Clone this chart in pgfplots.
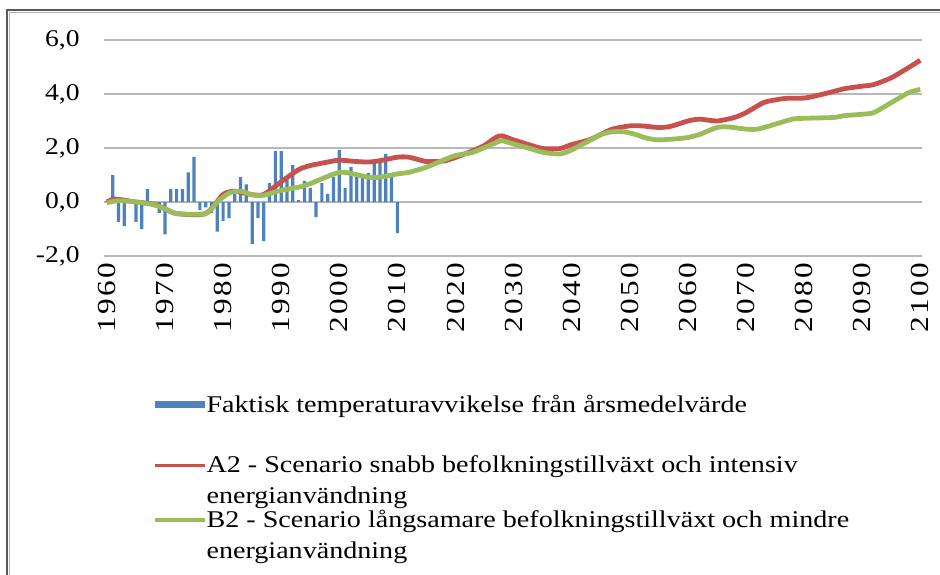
\documentclass[border=0pt]{standalone}
\usepackage{pgfplots}
\pgfplotsset{compat=1.18}
\usepackage{fontspec}
\setmainfont{Liberation Serif}
\newfontfamily\lblfont[FakeStretch=1.15]{Liberation Serif}
\newfontfamily\legfont[FakeStretch=1.17]{Liberation Serif}
\newfontfamily\xlabfont[FakeStretch=1.2,LetterSpace=10]{Liberation Serif}
\definecolor{barblue}{RGB}{79,129,189}
\definecolor{linered}{RGB}{200,80,77}
\definecolor{linegreen}{RGB}{155,189,89}
\begin{document}
\begin{tikzpicture}
\useasboundingbox (0,0) rectangle (470pt,287pt);
\draw[black!65, line width=1pt] (3.5pt,-10pt) |- (480pt,282pt);
\draw[black!30, line width=0.5pt] (4.9pt,-10pt) |- (480pt,280.6pt);
\begin{axis}[
  at={(52pt,159pt)}, anchor=south west,
  width=409pt, height=108pt, scale only axis,
  xmin=1959.5, xmax=2100.3, ymin=-2, ymax=6,
  xtick={1960,1970,...,2100}, ytick={-2,0,2,4,6},
  axis line style={draw=none},
  major tick length=0pt,
  ymajorgrids, grid style={black!28, line width=1pt},
  /pgf/number format/.cd, fixed, fixed zerofill, precision=1, use comma, assume math mode=true,
  /pgfplots/.cd,
  xticklabel={\pgfmathprintnumber[fixed,precision=0,set thousands separator={}]{\tick}},
  yticklabel style={font=\lblfont\fontsize{12}{14}\selectfont, anchor=east, inner sep=0pt},
  yticklabel shift=12pt,
  xticklabel style={font=\xlabfont\fontsize{13}{15}\selectfont, rotate=90, anchor=east, inner sep=0pt},
  xticklabel shift=3pt,
  legend cell align=left,
  legend style={at={(axis description cs:0.0599,-0.63)}, anchor=north west, draw=none, fill=none,
    inner sep=0pt, row sep=0.6pt,
    nodes={inner sep=0pt, align=left, font=\legfont\fontsize{12}{14}\selectfont},
    /tikz/every even column/.append style={column sep=3.5pt}},
]
\addplot[ybar, bar width=1.6pt, fill=barblue, draw=none,
  legend image code/.code={\fill[barblue] (0pt,7.35pt) rectangle (25pt,10.55pt);\path[draw=none,fill=none] (0pt,-11pt) rectangle (0.1pt,11pt);}] coordinates {
(1960,0.03) (1961,1.0) (1962,-0.74) (1963,-0.89) (1964,-0.05) (1965,-0.74) (1966,-1.0) (1967,0.48)
(1968,-0.05) (1969,-0.4) (1970,-1.2) (1971,0.48) (1972,0.48) (1973,0.48) (1974,1.1) (1975,1.67)
(1976,-0.3) (1977,-0.2) (1978,-0.4) (1979,-1.1) (1980,-0.7) (1981,-0.6) (1982,0.33) (1983,0.92)
(1984,0.65) (1985,-1.55) (1986,-0.6) (1987,-1.45) (1988,0.7) (1989,1.88) (1990,1.88) (1991,0.9)
(1992,1.37) (1993,0.07) (1994,0.78) (1995,0.52) (1996,-0.56) (1997,0.7) (1998,0.3) (1999,0.93)
(2000,1.93) (2001,0.52) (2002,1.3) (2003,0.93) (2004,0.93) (2005,1.07) (2006,1.44) (2007,1.44)
(2008,1.78) (2009,0.93) (2010,-1.15)};
\addlegendentry{Faktisk temperaturavvikelse från årsmedelvärde\strut\\[4.5pt]\strut}
\addplot[color=linered, line width=2.4pt, smooth, tension=0.4,
  legend image code/.code={\draw[linered, line width=1.6pt] (0pt,7.45pt) -- (25pt,7.45pt);\path[draw=none,fill=none] (0pt,-11pt) rectangle (0.1pt,11pt);}] coordinates {
(1960,0.0) (1961,0.1) (1962,0.1) (1965,0.0) (1968,-0.08) (1970,-0.25) (1972,-0.43) (1977,-0.43)
(1980,0.28) (1982,0.4) (1985,0.27) (1987,0.28) (1990,0.75) (1993,1.2) (1995,1.35) (1998,1.48)
(2000,1.55) (2003,1.5) (2005,1.48) (2007,1.53) (2010,1.66) (2012,1.66) (2015,1.5) (2018,1.52)
(2020,1.65) (2023,1.9) (2025,2.1) (2027,2.4) (2028,2.45) (2030,2.3) (2033,2.1) (2035,1.98)
(2038,1.98) (2040,2.13) (2043,2.3) (2045,2.5) (2047,2.7) (2050,2.82) (2052,2.82) (2055,2.76)
(2057,2.8) (2060,3.0) (2062,3.07) (2065,3.0) (2068,3.13) (2070,3.31) (2073,3.68) (2075,3.78)
(2077,3.84) (2080,3.85) (2082,3.93) (2085,4.09) (2087,4.2) (2090,4.29) (2092,4.35) (2095,4.6)
(2098,4.98) (2100,5.25)};
\addlegendentry{A2 - Scenario snabb befolkningstillväxt och intensiv\strut\\[1.5pt]energianvändning\strut}
\addplot[color=linegreen, line width=2.4pt, smooth, tension=0.4,
  legend image code/.code={\draw[linegreen, line width=1.6pt] (0pt,7.45pt) -- (25pt,7.45pt);\path[draw=none,fill=none] (0pt,-11pt) rectangle (0.1pt,11pt);}] coordinates {
(1960,-0.03) (1962,0.05) (1965,0.0) (1968,-0.1) (1970,-0.25) (1972,-0.43) (1977,-0.43) (1979,0.0)
(1981,0.33) (1983,0.4) (1985,0.27) (1987,0.25) (1990,0.43) (1993,0.55) (1995,0.68) (1997,0.86)
(2000,1.1) (2002,1.06) (2005,0.92) (2007,0.92) (2010,1.04) (2012,1.1) (2015,1.29) (2018,1.56)
(2020,1.72) (2023,1.84) (2025,2.02) (2027,2.2) (2028,2.27) (2030,2.15) (2033,1.97) (2035,1.84)
(2038,1.78) (2040,1.93) (2043,2.27) (2045,2.5) (2047,2.6) (2049,2.6) (2051,2.5) (2053,2.36)
(2055,2.3) (2058,2.34) (2060,2.39) (2062,2.5) (2065,2.76) (2067,2.78) (2070,2.7) (2072,2.7)
(2075,2.88) (2078,3.07) (2080,3.1) (2085,3.13) (2087,3.2) (2090,3.25) (2092,3.31) (2095,3.68)
(2098,4.05) (2100,4.17)};
\addlegendentry{B2 - Scenario långsamare befolkningstillväxt och mindre\strut\\[1.5pt]energianvändning\strut}
\end{axis}
\end{tikzpicture}
\end{document}
